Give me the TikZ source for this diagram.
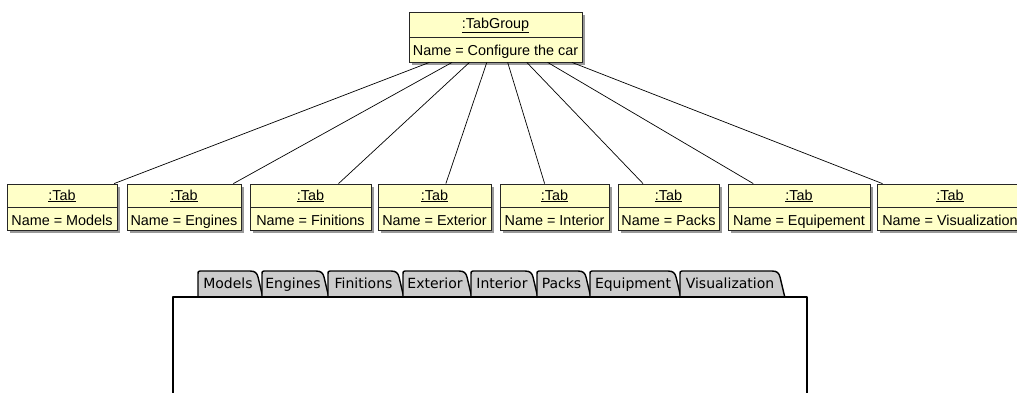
\documentclass[tikz,border=0pt]{standalone}
\usepackage{fontspec}
\setmainfont{Liberation Sans}
\newfontfamily\sketchfont{DejaVu Sans}
\usetikzlibrary{calc,fit}
\definecolor{umlfill}{RGB}{255,255,200}
\definecolor{tabgray}{RGB}{204,204,204}
\newcommand\umlobj[8]{% name, x1, x2, y1, ymid, y2, title, attr
  \fill[umlshadow] ({#2+3},{#4+3}) rectangle ({#3+3},{#6+3});
  \node[umlbox, fit={(#2,#4) (#3,#6)}] (#1) {};
  \draw[umlline] (#2,#5) -- (#3,#5);
  \node[umltext] (#1-title) at ({(#2+#3)/2},{#4+16}) {\underline{#7}};
  \node[umltext] (#1-attr) at ({(#2+#3)/2},{#5+18}) {#8};
}
\newcommand\tabitem[4]{% name, L, R, label
  \draw[tabshape] (#2,298) -- (#2,274) .. controls (#2,272) and (#2,271) .. ({#2+2},271)
     -- ({#3-12},271) .. controls ({#3-7},271) and ({#3-5},273) .. ({#3-4},277)
     -- ({#3+1},298) -- cycle;
  \node[tablabel] (#1) at ({(#2+#3-4)/2},288.5) {#4};
}
\begin{document}
\begin{tikzpicture}[x=1pt,y=-1pt,
  umlbox/.style={draw=black!85, fill=umlfill, line width=0.8pt, inner sep=0pt},
  umlline/.style={draw=black!85, line width=0.8pt},
  umlshadow/.style={fill=black!40, draw=none},
  link/.style={draw=black, line width=0.7pt},
  tabshape/.style={draw=black, fill=tabgray, line width=1.4pt, line join=round},
  tablabel/.style={font=\sketchfont\fontsize{14}{16}\selectfont, inner sep=0pt, anchor=base},
  umltext/.style={font=\fontsize{14.4}{16}\selectfont, inner sep=0pt, anchor=base},
  panel/.style={draw=black, fill=white, line width=2.2pt, line join=round}]
\useasboundingbox (0,0) rectangle (1017,392);
\clip (0,0) rectangle (1017,392);
\fill[white] (0,0) rectangle (1017,392);

% UML objects
\umlobj{tg}{409}{582}{12}{37}{62}{:TabGroup}{Name = Configure the car}
\umlobj{t1}{7}{117}{184}{207}{230}{:Tab}{Name = Models}
\umlobj{t2}{127}{241}{184}{207}{230}{:Tab}{Name = Engines}
\umlobj{t3}{250}{371}{184}{207}{230}{:Tab}{Name = Finitions}
\umlobj{t4}{378}{491}{184}{207}{230}{:Tab}{Name = Exterior}
\umlobj{t5}{500}{609}{184}{207}{230}{:Tab}{Name = Interior}
\umlobj{t6}{618}{719}{184}{207}{230}{:Tab}{Name = Packs}
\umlobj{t7}{728}{870}{184}{207}{230}{:Tab}{Name = Equipement}
\umlobj{t8}{877}{1023}{184}{207}{230}{:Tab}{Name = Visualization}

% links
\draw[link] ($(tg.south west)!0.12!(tg.south east)$) -- ($(t1.north west)!0.97!(t1.north east)$);
\draw[link] ($(tg.south west)!0.25!(tg.south east)$) -- ($(t2.north west)!0.93!(t2.north east)$);
\draw[link] ($(tg.south west)!0.35!(tg.south east)$) -- ($(t3.north west)!0.73!(t3.north east)$);
\draw[link] ($(tg.south west)!0.45!(tg.south east)$) -- ($(t4.north west)!0.60!(t4.north east)$);
\draw[link] ($(tg.south west)!0.57!(tg.south east)$) -- ($(t5.north west)!0.41!(t5.north east)$);
\draw[link] ($(tg.south west)!0.68!(tg.south east)$) -- ($(t6.north west)!0.25!(t6.north east)$);
\draw[link] ($(tg.south west)!0.80!(tg.south east)$) -- ($(t7.north west)!0.18!(t7.north east)$);
\draw[link] ($(tg.south west)!0.94!(tg.south east)$) -- ($(t8.north west)!0.04!(t8.north east)$);

% tab control mockup
\tabitem{tabA}{198}{262}{Models}
\tabitem{tabB}{262}{328}{Engines}
\tabitem{tabC}{328}{403}{Finitions}
\tabitem{tabD}{403}{471}{Exterior}
\tabitem{tabE}{471}{537}{Interior}
\tabitem{tabF}{537}{590}{Packs}
\tabitem{tabG}{590}{680}{Equipment}
\tabitem{tabH}{680}{784}{Visualization}
\draw[panel] (173,297) rectangle (807,420);
\end{tikzpicture}
\end{document}
